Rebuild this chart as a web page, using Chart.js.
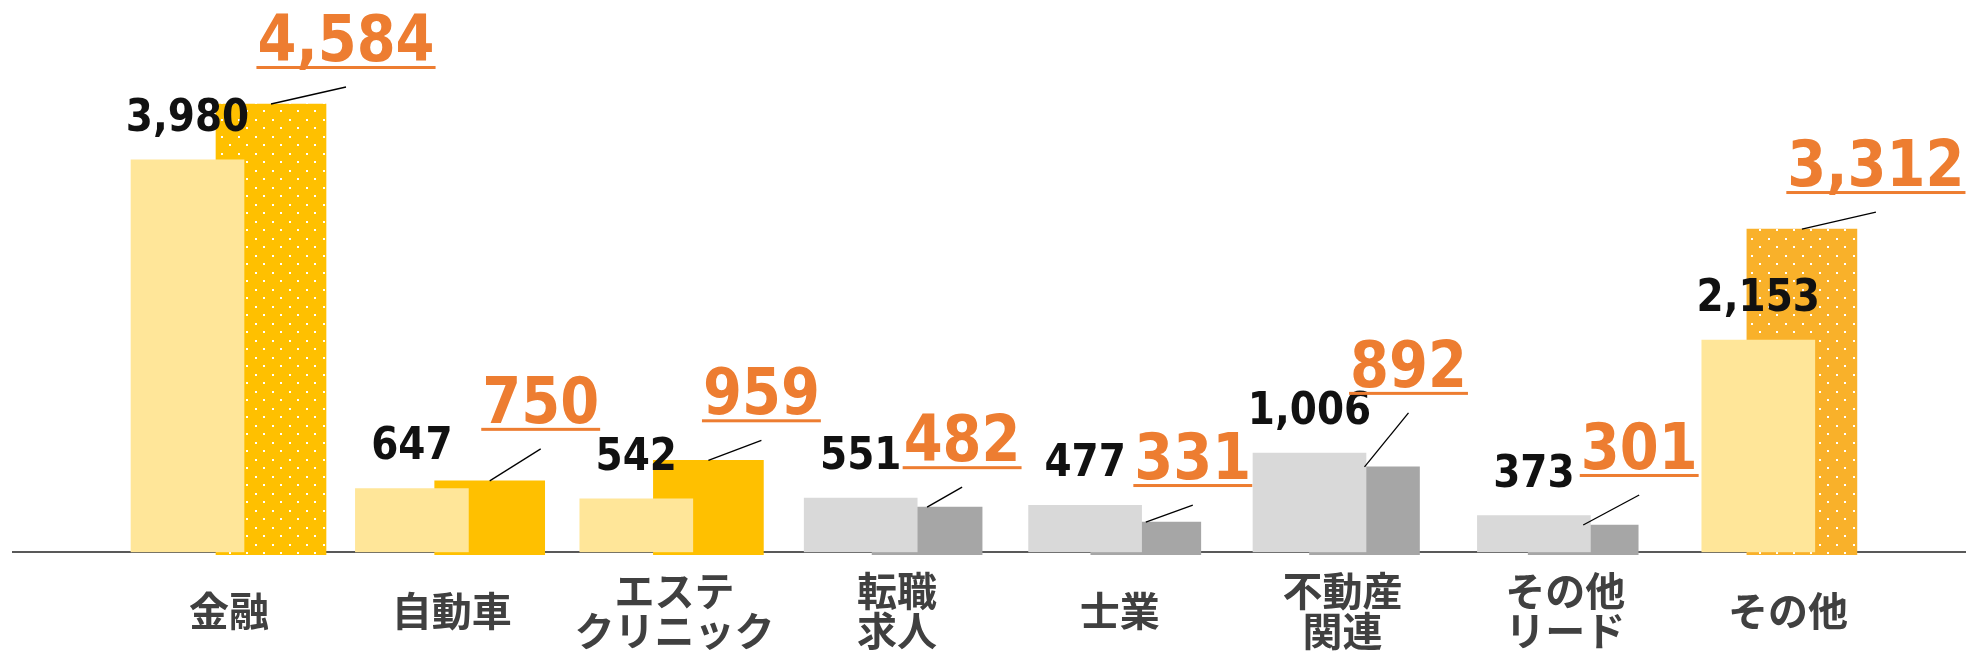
<!DOCTYPE html>
<html>
<head>
<meta charset="utf-8">
<script src="https://cdn.jsdelivr.net/npm/chart.js@4.4.1/dist/chart.umd.min.js"></script>
<style>
  html, body { margin: 0; padding: 0; background: #fff; }
  #wrap { width: 1966px; height: 661px; position: relative; }
</style>
</head>
<body>
<div id="wrap"><canvas id="chart"></canvas></div>
<script>
// カテゴリ（\n で改行）
const categories = ["金融", "自動車", "エステ\nクリニック", "転職\n求人", "士業", "不動産\n関連", "その他\nリード", "その他"];
// 左の薄い棒
const previousValues = [3980, 647, 542, 551, 477, 1006, 373, 2153];
// 右の濃い棒
const currentValues = [4584, 750, 959, 482, 331, 892, 301, 3312];

// 色
const lightColors = ["#FFE699", "#FFE699", "#FFE699", "#D9D9D9", "#D9D9D9", "#D9D9D9", "#D9D9D9", "#FFE699"];
const darkColors = ["#FFC000", "#FFC000", "#FFC000", "#A6A6A6", "#A6A6A6", "#A6A6A6", "#A6A6A6", "#F9B12A"];
const dotted = [true, false, false, false, false, false, false, true];
const ORANGE = "#ED7D31";

// 吹き出しラベルの位置（棒の上端からのずれ, px）
const calloutDx = [75, 51, 53, 35, 47, 44, 56, 74];
const calloutDy = [-38, -53, -41, -41, -38, -75, -51, -38];

// 横軸の配置（px）
const PLOT_LEFT = 13, PLOT_RIGHT = 1966;
function span(first, step) {
    return { min: (PLOT_LEFT - first) / step, max: (PLOT_RIGHT - first) / step };
}
const lightSpan = span(187.5, 224.4);
const darkSpan = span(271, 218.7);
const labelSpan = span(229, 222.7);

// 白いドット模様
function dotPattern(color) {
    const c = document.createElement("canvas");
    c.width = 17; c.height = 17;
    const g = c.getContext("2d");
    g.fillStyle = color;
    g.fillRect(0, 0, 17, 17);
    g.fillStyle = "#FFFFFF";
    g.fillRect(0, 0, 2, 2);
    g.fillRect(8, 8, 2, 2);
    return g.createPattern(c, "repeat");
}
const darkFills = darkColors.map((c, i) => dotted[i] ? dotPattern(c) : c);

const fmt = v => v.toLocaleString("en-US");

function drawStretched(ctx, text, x, y, font, color) {
    ctx.save();
    ctx.font = font;
    ctx.fillStyle = color;
    ctx.textAlign = "center";
    ctx.textBaseline = "alphabetic";
    ctx.translate(x, y);
    ctx.scale(1, 1.13);
    ctx.fillText(text, 0, 0);
    ctx.restore();
}

// 数値ラベルと引き出し線
const calloutPlugin = {
    id: "callouts",
    afterDraw(chart) {
        const ctx = chart.ctx;
        const lightBars = chart.getDatasetMeta(0).data;
        const darkBars = chart.getDatasetMeta(1).data;

        lightBars.forEach((bar, i) => {
            drawStretched(ctx, fmt(previousValues[i]), bar.x, bar.y - 29, "bold 39px 'DejaVu Sans'", "#111111");
        });

        darkBars.forEach((bar, i) => {
            const text = fmt(currentValues[i]);
            const font = "bold 56px 'DejaVu Sans'";
            const cx = bar.x + calloutDx[i];
            const lineY = bar.y + calloutDy[i];
            ctx.save();
            ctx.font = font;
            const w = ctx.measureText(text).width;
            ctx.restore();
            drawStretched(ctx, text, cx, lineY - 5, font, ORANGE);

            ctx.save();
            ctx.fillStyle = ORANGE;
            ctx.fillRect(cx - w / 2 - 1, lineY, w + 2, 3);
            ctx.strokeStyle = "#000000";
            ctx.lineWidth = 1.3;
            ctx.beginPath();
            ctx.moveTo(bar.x, bar.y);
            ctx.lineTo(cx, lineY + 21);
            ctx.stroke();
            ctx.restore();
        });
    }
};

const ctx = document.getElementById("chart").getContext("2d");
new Chart(ctx, {
    type: "bar",
    data: {
        datasets: [
            {
                data: previousValues.map((v, i) => ({ x: i, y: v })),
                xAxisID: "xl",
                yAxisID: "y",
                backgroundColor: lightColors,
                barThickness: 113,
                grouped: false,
                order: 1
            },
            {
                data: currentValues.map((v, i) => ({ x: i, y: v })),
                xAxisID: "xd",
                yAxisID: "yd",
                backgroundColor: darkFills,
                barThickness: 110,
                grouped: false,
                clip: false,
                order: 2
            }
        ]
    },
    options: {
        responsive: true,
        maintainAspectRatio: false,
        animation: false,
        layout: { padding: { left: PLOT_LEFT, right: 0, top: 0, bottom: 0 } },
        plugins: {
            legend: { display: false },
            tooltip: { enabled: false }
        },
        scales: {
            x: {
                type: "linear",
                position: "bottom",
                min: labelSpan.min,
                max: labelSpan.max,
                offset: false,
                bounds: "data",
                z: 1,
                grid: { display: false, drawTicks: false, offset: false },
                border: { display: true, color: "#595959", width: 2 },
                afterBuildTicks: s => { s.ticks = categories.map((_, i) => ({ value: i })); },
                afterFit: s => { s.height = 108.7; },
                ticks: {
                    autoSkip: false,
                    maxRotation: 0,
                    minRotation: 0,
                    crossAlign: "center",
                    padding: 38,
                    color: "#404040",
                    font: { family: "'Noto Sans CJK JP'", size: 40, weight: "bold", lineHeight: 1.0 },
                    callback: (value, index) => categories[index].split("\n")
                }
            },
            xl: {
                type: "linear",
                display: false,
                offset: false,
                min: lightSpan.min,
                max: lightSpan.max,
                bounds: "data"
            },
            xd: {
                type: "linear",
                display: false,
                offset: false,
                min: darkSpan.min,
                max: darkSpan.max,
                bounds: "data"
            },
            y: {
                display: false,
                min: 0,
                max: 5600
            },
            yd: {
                display: false,
                position: "left",
                min: 23,
                max: 5642
            }
        }
    },
    plugins: [calloutPlugin]
});
</script>
</body>
</html>
